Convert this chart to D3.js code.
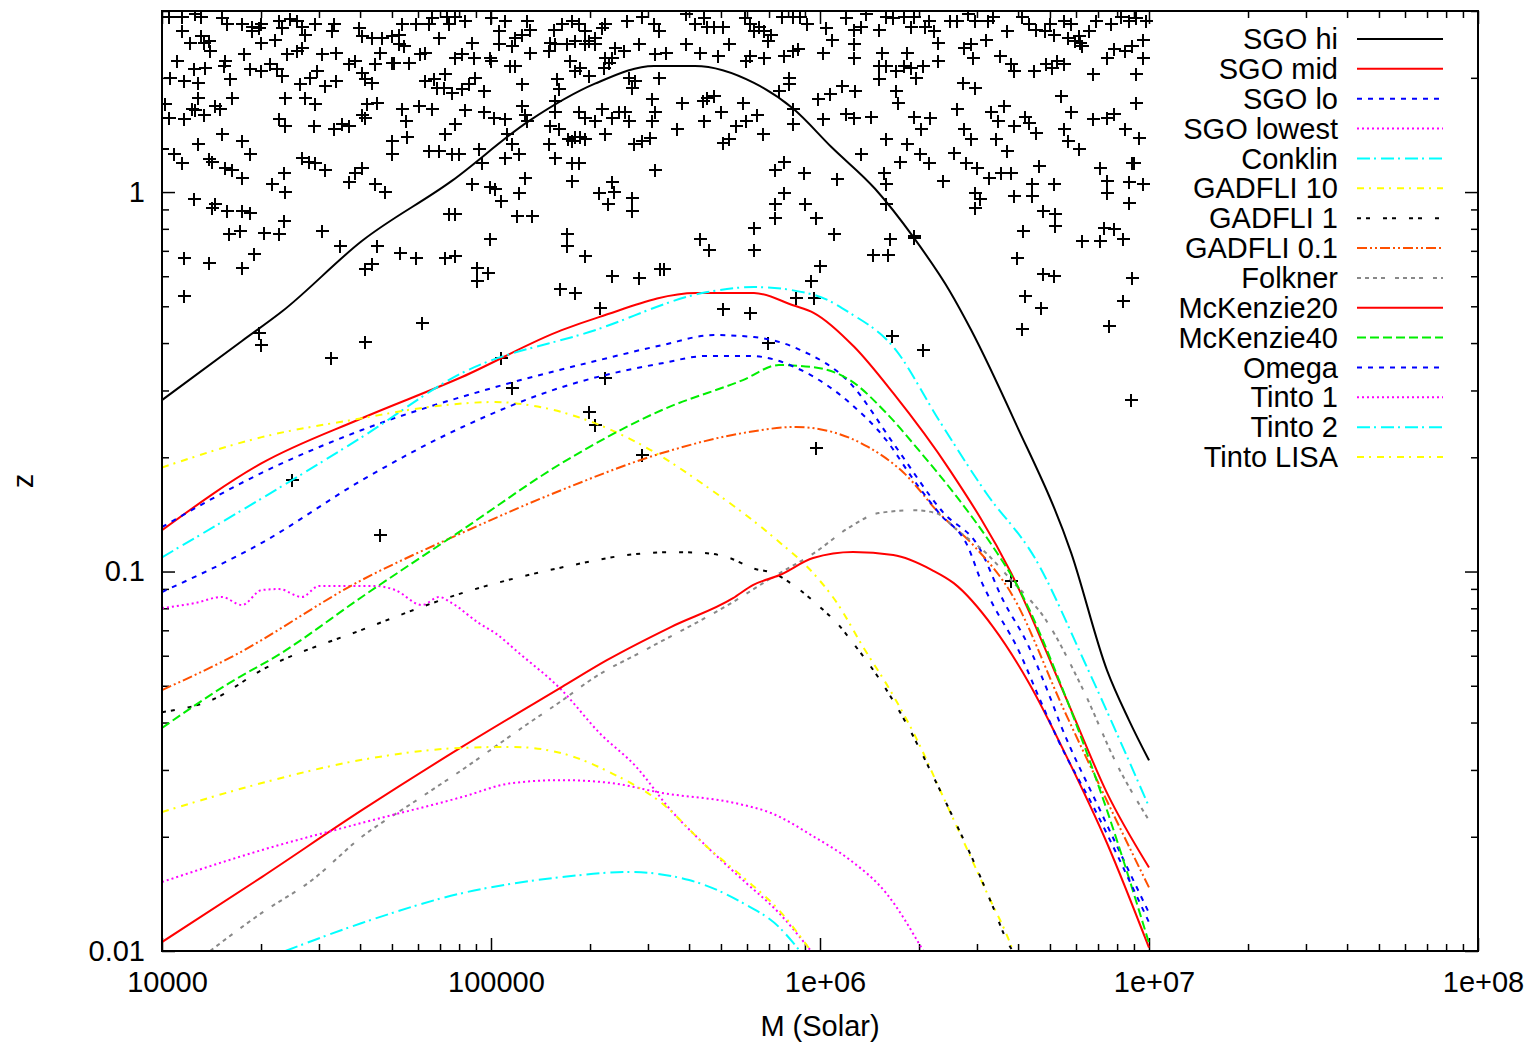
<!DOCTYPE html>
<html>
<head>
<meta charset="utf-8">
<script src="https://cdn.jsdelivr.net/npm/d3@7"></script>
<style>
  body { margin: 0; background: #fff; }
  text { font-family: "Liberation Sans", Arial, Helvetica, sans-serif; }
</style>
</head>
<body>
<script>
// ---- data ----
var xTickVals = [1e4, 1e5, 1e6, 1e7, 1e8];
var xTickLabels = ["10000", "100000", "1e+06", "1e+07", "1e+08"];
var yTickVals = [0.01, 0.1, 1];
var yTickLabels = ["0.01", "0.1", "1"];

var seriesNames = ["SGO hi", "SGO mid", "SGO lo", "SGO lowest", "Conklin", "GADFLI 10", "GADFLI 1",
  "GADFLI 0.1", "Folkner", "McKenzie20", "McKenzie40", "Omega", "Tinto 1", "Tinto 2", "Tinto LISA"];

var sgoHiM = [1e4, 1.75e4, 2.32e4, 4.05e4, 7.6e4, 1.306e5, 2.07e5, 3.13e5, 4.17e5, 6.3e5, 8.28e5, 1.087e6, 1.47e6, 1.93e6, 2.48e6, 2.88e6, 3.89e6, 5.8e6, 7.45e6, 8.69e6, 1e7];
var sgoHiZ = [0.283, 0.405, 0.485, 0.743, 1.07, 1.54, 1.93, 2.15, 2.15, 1.94, 1.66, 1.31, 1.02, 0.757, 0.548, 0.433, 0.251, 0.112, 0.055, 0.0406, 0.0318];

var sgoMidM = [1e4, 2.01e4, 4.05e4, 8.16e4, 1.64e5, 2.14e5, 4.2e5, 6.3e5, 8.28e5, 9.59e5, 1.27e6, 1.67e6, 2.48e6, 3.81e6, 5.68e6, 7.45e6, 1e7];
var sgoMidZ = [0.1285, 0.193, 0.2535, 0.3255, 0.4325, 0.469, 0.542, 0.542, 0.503, 0.48, 0.391, 0.295, 0.185, 0.0991, 0.045, 0.0261, 0.0166];

var sgoLoM = [1e4, 2.01e4, 4.05e4, 1.028e5, 2.14e5, 3.31e5, 4.76e5, 6.3e5, 8.69e5, 1.233e6, 1.7e6, 2.37e6, 3.04e6, 3.6e6, 4.26e6, 5.0e6, 5.36e6, 7.1e6, 1e7];
var sgoLoZ = [0.131, 0.182, 0.236, 0.306, 0.361, 0.395, 0.42, 0.415, 0.384, 0.314, 0.213, 0.143, 0.116, 0.0841, 0.0648, 0.0467, 0.0399, 0.0235, 0.0126];

var sgoLowestM = [1e4, 1.26e4, 1.52e4, 1.75e4, 2.01e4, 2.27e4, 2.66e4, 3.0e4, 4.44e4, 5.11e4, 6.17e4, 6.95e4, 7.6e4, 9.19e4, 1.028e5, 1.216e5, 1.64e5, 2.14e5, 2.76e5, 3.52e5, 4.54e5, 5.83e5, 7.5e5, 9.39e5];
var sgoLowestZ = [0.0801, 0.0826, 0.0857, 0.0816, 0.0894, 0.0899, 0.0857, 0.0916, 0.0916, 0.0894, 0.0816, 0.0857, 0.0826, 0.0731, 0.0689, 0.061, 0.0487, 0.0375, 0.0306, 0.0235, 0.0188, 0.01538, 0.0126, 0.01];

var conklinM = [1e4, 2.48e4, 4.05e4, 8.16e4, 2.07e5, 4.54e5, 6.3e5, 9.59e5, 1.233e6, 1.67e6, 2.3e6, 3.2e6, 4.5e6, 6.39e6, 1e7];
var conklinZ = [0.109, 0.174, 0.226, 0.3335, 0.4325, 0.545, 0.562, 0.536, 0.48, 0.391, 0.2505, 0.161, 0.1085, 0.0574, 0.024];

var gadfli10M = [1e4, 2.01e4, 4.05e4, 6.48e4, 1.028e5, 1.305e5, 2.07e5, 2.94e5, 4.54e5, 7.4e5, 9.53e5, 1.127e6, 1.353e6, 1.633e6, 1.973e6, 2.317e6, 2.72e6, 3.22e6, 3.78e6, 3.86e6];
var gadfli10Z = [0.188, 0.226, 0.2535, 0.2714, 0.2797, 0.2746, 0.246, 0.213, 0.167, 0.121, 0.0991, 0.0826, 0.0632, 0.0487, 0.036, 0.02656, 0.0196, 0.0142, 0.0105, 0.01];

var gadfli1M = [1e4, 1.42e4, 2.01e4, 4.05e4, 8.16e4, 1.775e5, 2.59e5, 3.57e5, 4.4e5, 5.32e5, 6.25e5, 7.19e5, 8.69e5, 1e6, 1.127e6, 1.26e6, 1.522e6, 1.877e6, 2.16e6, 2.535e6, 2.917e6, 3.357e6, 3.727e6, 3.85e6];
var gadfli1Z = [0.0426, 0.0459, 0.055, 0.0702, 0.0877, 0.104, 0.1105, 0.1125, 0.112, 0.1085, 0.102, 0.0991, 0.0894, 0.0806, 0.0731, 0.0648, 0.0518, 0.0382, 0.03, 0.02254, 0.01738, 0.01306, 0.0105, 0.01];

var gadfli01M = [1e4, 1.6e4, 4.05e4, 8.16e4, 1.64e5, 3.31e5, 5.83e5, 8.45e5, 1.087e6, 1.4e6, 1.8e6, 2.3e6, 2.96e6, 3.81e6, 5.52e6, 1e7];
var gadfli01Z = [0.0487, 0.0591, 0.095, 0.1264, 0.164, 0.2052, 0.2317, 0.2404, 0.2334, 0.213, 0.1818, 0.1426, 0.116, 0.0877, 0.0431, 0.0147];

var folknerM = [1.4e4, 2.01e4, 2.86e4, 4.05e4, 5.75e4, 8.16e4, 1.305e5, 1.62e5, 2.07e5, 2.94e5, 5.44e5, 7.19e5, 9.59e5, 1.233e6, 1.51e6, 1.93e6, 2.25e6, 2.61e6, 3.2e6, 3.81e6, 4.86e6, 6.25e6, 8.05e6, 1e7];
var folknerZ = [0.01, 0.0126, 0.01538, 0.02, 0.0245, 0.03, 0.0399, 0.0453, 0.0527, 0.0621, 0.0831, 0.0967, 0.1118, 0.131, 0.1426, 0.145, 0.1426, 0.1286, 0.1118, 0.095, 0.0745, 0.0496, 0.0306, 0.0221];

var mck20M = [1e4, 2.01e4, 4.05e4, 8.16e4, 1.64e5, 2.25e5, 3.52e5, 5.44e5, 6.25e5, 7.55e5, 9.53e5, 1.26e6, 1.67e6, 2.19e6, 2.55e6, 3.36e6, 4.32e6, 5.68e6, 7.45e6, 1e7];
var mck20Z = [0.01056, 0.01566, 0.0235, 0.0345, 0.0496, 0.0584, 0.0714, 0.0851, 0.0921, 0.0979, 0.1085, 0.1125, 0.1105, 0.1009, 0.0932, 0.0714, 0.0508, 0.0319, 0.01926, 0.0102];

var mck40M = [1e4, 1.6e4, 2.28e4, 4.05e4, 8.16e4, 1.64e5, 3.31e5, 5.83e5, 7.5e5, 9.59e5, 1.233e6, 1.59e6, 2.03e6, 2.61e6, 3.36e6, 4.0e6, 5.52e6, 7.45e6, 1e7];
var mck40Z = [0.0387, 0.0508, 0.0606, 0.0857, 0.1286, 0.193, 0.2665, 0.3195, 0.35, 0.3455, 0.3195, 0.2617, 0.2052, 0.157, 0.116, 0.091, 0.0479, 0.0235, 0.0105];

var omegaM = [1e4, 2.01e4, 4.05e4, 8.16e4, 1.64e5, 3.31e5, 4.54e5, 6.1e5, 9.12e5, 1.233e6, 1.59e6, 1.93e6, 2.3e6, 2.82e6, 3.08e6, 3.36e6, 3.97e6, 4.67e6, 5.29e6, 6.86e6, 1e7];
var omegaZ = [0.0883, 0.119, 0.174, 0.24, 0.306, 0.354, 0.37, 0.37, 0.3335, 0.278, 0.222, 0.174, 0.1426, 0.116, 0.095, 0.0816, 0.0632, 0.0458, 0.036, 0.0235, 0.0119];

var tinto1M = [1e4, 2.01e4, 4.05e4, 8.16e4, 1.158e5, 1.64e5, 2.33e5, 3.31e5, 5.56e5, 7.1e5, 9.59e5, 1.233e6, 1.59e6, 2.06e6];
var tinto1Z = [0.0152, 0.01845, 0.02175, 0.02545, 0.0277, 0.0282, 0.0277, 0.0261, 0.0245, 0.0231, 0.02, 0.01738, 0.0142, 0.01];

var tinto2M = [2.37e4, 4.05e4, 8.16e4, 1.64e5, 2.63e5, 4.0e5, 5.83e5, 7.5e5, 8.69e5];
var tinto2Z = [0.01, 0.01185, 0.0142, 0.01566, 0.01615, 0.01538, 0.01338, 0.01157, 0.01];

var tintoLisaM = [1e4, 2.01e4, 4.05e4, 8.16e4, 1.158e5, 1.64e5, 2.33e5, 3.31e5, 4.54e5, 5.83e5, 7.5e5, 9.39e5];
var tintoLisaZ = [0.02324, 0.0277, 0.0319, 0.0343, 0.0345, 0.0332, 0.0294, 0.0245, 0.0188, 0.01566, 0.01282, 0.01];

// scattered sources [M, z]
var scatter = [
[1.05e4,2.9],[1.15e4,2.9],[1.26e4,2.95],[1.31e4,2.9],[1.52e4,2.87],[1.58e4,2.77],[1.75e4,2.77],[1.88e4,2.73],[1.97e4,2.7],[2.0e4,2.78],
[2.27e4,2.82],[2.32e4,2.7],[2.45e4,2.86],[2.57e4,2.82],[2.66e4,2.73],[2.92e4,2.78],[3.33e4,2.78],[3.29e4,2.65],[3.97e4,2.7],[4.06e4,2.58],
[4.35e4,2.54],[4.66e4,2.54],[5.0e4,2.58],[5.25e4,2.6],[5.37e4,2.78],[5.9e4,2.77],[6.5e4,2.77],[6.6e4,2.87],[7.36e4,2.9],[7.45e4,2.78],
[7.8e4,2.9],[8.35e4,2.82],[1.0e5,2.87],[1.06e5,2.65],[1.1e5,2.82],[1.18e5,2.54],[1.24e5,2.6],[1.29e5,2.82],[1.31e5,2.68],[1.55e5,2.68],
[1.64e5,2.77],[1.76e5,2.82],[1.85e5,2.77],[1.93e5,2.65],[1.98e5,2.5],[2.07e5,2.54],[2.17e5,2.7],[2.22e5,2.77],[2.59e5,2.82],[2.88e5,2.9],
[3.14e5,2.78],[3.25e5,2.65],
[1.15e4,2.65],[1.22e4,2.47],[1.31e4,2.58],[1.39e4,2.5],[1.4e4,2.35],[1.34e4,2.47],[1.78e4,2.31],[1.88e4,2.65],[2.0e4,2.47],[2.21e4,2.52],
[2.4e4,2.31],[2.57e4,2.35],[2.66e4,2.4],[2.72e4,2.6],[3.07e4,2.31],[3.37e4,2.33],[3.86e4,2.22],[4.45e4,2.18],[4.6e4,2.33],[5.0e4,2.19],
[5.25e4,2.45],[5.45e4,2.43],[5.64e4,2.19],[6.1e4,2.31],[6.3e4,2.33],[6.95e4,2.54],[7.8e4,2.26],[8.17e4,2.31],[8.77e4,2.47],[8.9e4,2.26],
[9.9e4,2.25],[1.06e5,2.45],[1.16e5,2.43],[1.31e5,2.33],[1.5e5,2.35],[1.51e5,2.47],[1.57e5,2.45],[1.7e5,2.45],[1.74e5,2.22],[1.8e5,2.5],
[1.93e5,2.45],[2.07e5,2.45],[2.22e5,2.26],[2.33e5,2.26],[2.38e5,2.4],[2.54e5,2.35],[2.82e5,2.45],[3.15e5,2.31],
[1.06e4,2.0],[1.11e4,2.22],[1.17e4,1.96],[1.25e4,2.11],[1.29e4,1.94],[1.35e4,2.12],[1.54e4,2.15],[1.55e4,2.22],[1.61e4,1.99],[1.85e4,2.11],
[2.0e4,2.08],[2.13e4,2.18],[2.24e4,2.11],[2.32e4,2.02],[2.63e4,1.93],[2.82e4,2.0],[2.96e4,2.08],[3.13e4,1.9],[3.37e4,1.96],[3.7e4,2.18],
[4.06e4,2.06],[4.15e4,1.99],[4.35e4,1.94],[5.07e4,2.19],[6.3e4,1.96],[6.7e4,1.99],[6.86e4,1.88],[7.2e4,1.88],[7.25e4,2.05],[7.62e4,1.82],
[8.17e4,1.87],[8.6e4,1.93],[8.95e4,2.0],[9.5e4,1.85],[1.0e5,2.22],[1.14e5,2.15],[1.18e5,2.15],[1.24e5,1.93],[1.59e5,1.99],[1.61e5,1.87],
[1.8e5,2.08],[1.87e5,2.12],[1.98e5,2.02],[2.2e5,2.12],[2.29e5,2.19],[2.62e5,2.0],[2.68e5,1.88],[2.74e5,1.96],[3.09e5,1.76],[3.25e5,2.0],
[1.02e4,1.71],[1.05e4,1.57],[1.17e4,1.56],[1.23e4,1.66],[1.26e4,1.65],[1.29e4,1.77],[1.34e4,1.6],[1.45e4,1.69],[1.5e4,1.66],[1.63e4,1.77],
[2.27e4,1.56],[2.37e4,1.77],[2.37e4,1.49],[2.72e4,1.77],[2.9e4,1.49],[2.92e4,1.71],[3.33e4,1.47],[3.53e4,1.51],[3.7e4,1.49],[4.06e4,1.6],
[4.2e4,1.71],[4.15e4,1.57],[4.5e4,1.72],[5.37e4,1.66],[5.5e4,1.54],[5.56e4,1.4],[6.05e4,1.69],[6.62e4,1.66],[7.25e4,1.42],[7.8e4,1.51],
[8.35e4,1.65],[9.2e4,1.3],[9.5e4,1.63],[1.02e5,1.57],[1.1e5,1.56],[1.12e5,1.42],[1.24e5,1.69],[1.27e5,1.6],[1.29e5,1.54],[1.51e5,1.49],
[1.57e5,1.74],[1.57e5,1.63],[1.61e5,1.47],[1.72e5,1.38],[1.8e5,1.4],[1.87e5,1.4],[1.93e5,1.38],[1.85e5,1.63],[1.93e5,1.57],[2.07e5,1.54],
[2.17e5,1.66],[2.22e5,1.42],[2.33e5,1.57],[2.45e5,1.63],[2.55e5,1.63],[2.62e5,1.54],[2.72e5,1.34],[2.88e5,1.36],[3.05e5,1.39],[3.09e5,1.54],[3.15e5,1.63],
[1.0e4,1.3],[1.09e4,1.26],[1.15e4,1.19],[1.29e4,1.34],[1.39e4,1.22],[1.42e4,1.2],[1.52e4,1.42],[1.55e4,1.16],[1.63e4,1.14],[1.75e4,1.09],
[1.75e4,1.36],[1.85e4,1.26],[2.16e4,1.05],[2.35e4,1.12],[2.37e4,1.0],[2.66e4,1.23],[2.8e4,1.2],[2.92e4,1.19],[3.13e4,1.14],[3.7e4,1.06],
[3.86e4,1.12],[4.06e4,1.16],[4.45e4,1.05],[4.75e4,1.0],[5.0e4,1.36],[5.0e4,1.26],[6.5e4,1.28],[6.95e4,1.28],[7.62e4,1.26],[8.0e4,1.26],
[8.77e4,1.05],[9.4e4,1.19],[9.9e4,1.03],[1.03e5,1.02],[1.07e5,0.947],[1.1e5,1.23],[1.16e5,1.34],[1.22e5,1.26],[1.22e5,0.994],[1.27e5,1.09],
[1.5e5,1.34],[1.57e5,1.23],[1.76e5,1.36],[1.76e5,1.07],[1.76e5,1.19],[1.85e5,1.19],[2.13e5,0.994],[2.26e5,0.93],[2.33e5,1.06],[2.36e5,1.0],
[2.68e5,0.965],[2.68e5,0.891],[3.15e5,1.14],
[1.17e4,0.67],[1.17e4,0.531],[1.25e4,0.959],[1.39e4,0.65],[1.42e4,0.907],[1.45e4,0.93],[1.58e4,0.891],[1.6e4,0.775],[1.73e4,0.79],[1.75e4,0.631],
[1.75e4,0.891],[1.85e4,0.88],[1.9e4,0.687],[2.04e4,0.78],[2.27e4,0.775],[2.35e4,0.839],[3.07e4,0.79],[3.48e4,0.72],[4.15e4,0.627],[4.35e4,0.646],
[4.5e4,0.72],[5.3e4,0.69],[5.9e4,0.67],[6.17e4,0.452],[7.25e4,0.67],[7.45e4,0.875],[7.8e4,0.875],[7.8e4,0.679],[9.08e4,0.631],[9.08e4,0.583],
[9.8e4,0.612],[9.9e4,0.75],[1.2e5,0.865],[1.33e5,0.865],[1.7e5,0.775],[1.7e5,0.72],[1.62e5,0.556],[1.8e5,0.541],[1.93e5,0.679],[2.15e5,0.495],
[2.33e5,0.6],[2.82e5,0.594],[3.27e5,0.627],[1.97e4,0.425],
[2.0e4,0.395],[3.27e4,0.365],[4.15e4,0.403],[1.07e5,0.365],[1.16e5,0.305],[2.22e5,0.323],[1.99e5,0.263],[2.07e5,0.243],[2.88e5,0.203],[2.48e4,0.174],[4.6e4,0.125],
[3.92e5,2.95],[4.17e5,2.78],[4.45e5,2.87],[4.54e5,2.73],[4.75e5,2.73],[5.07e5,2.73],[5.92e5,2.87],[6.13e5,2.77],[6.3e5,2.65],[6.53e5,2.73],
[6.76e5,2.65],[7.1e5,2.6],[7.67e5,2.9],[8.3e5,2.9],[8.7e5,2.9],[9.15e5,2.77],[1.04e6,2.7],[1.09e6,2.52],[1.2e6,2.87],[1.27e6,2.68],
[1.33e6,2.73],[1.38e6,2.95],[1.51e6,2.68],[1.59e6,2.9],[1.67e6,2.87],[1.8e6,2.9],[1.89e6,2.73],[1.93e6,2.9],[2.09e6,2.73],[2.14e6,2.82],
[2.22e6,2.65],[2.29e6,2.47],[2.48e6,2.82],[2.61e6,2.82],[2.82e6,2.95],[2.96e6,2.82],[3.24e6,2.82],[3.35e6,2.9],[3.7e6,2.65],[4.1e6,2.9],
[4.32e6,2.77],[4.54e6,2.68],[4.83e6,2.65],[5.0e6,2.77],[5.15e6,2.6],[5.52e6,2.82],[5.8e6,2.77],[5.96e6,2.5],[6.17e6,2.47],[6.58e6,2.65],
[6.9e6,2.82],[7.67e6,2.78],[8.2e6,2.9],[8.7e6,2.82],[9.15e6,2.87],[9.8e6,2.82],[9.6e6,2.52],
[3.4e5,2.33],[3.92e5,2.45],[4.32e5,2.33],[4.9e5,2.28],[5.3e5,2.45],[5.96e5,2.22],[6.13e5,2.28],[6.76e5,2.26],[6.95e5,2.5],[7.8e5,2.28],
[8.3e5,2.35],[8.6e5,2.38],[1.02e6,2.33],[1.27e6,2.25],[1.27e6,2.45],[1.54e6,2.33],[1.51e6,2.15],[1.59e6,2.15],[1.7e6,2.08],[1.84e6,2.33],
[1.8e6,2.15],[1.89e6,2.12],[1.96e6,2.0],[2.06e6,2.15],[2.29e6,2.22],[2.74e6,2.4],[2.88e6,2.45],[2.92e6,2.26],[3.2e6,2.52],[3.53e6,2.28],
[3.8e6,2.18],[3.89e6,2.08],[4.47e6,2.08],[4.86e6,2.18],[5.07e6,2.12],[5.25e6,2.22],[5.52e6,2.18],[5.68e6,2.54],[6.13e6,2.58],[6.26e6,2.43],
[6.76e6,2.05],[7.45e6,2.26],[7.84e6,2.38],[8.46e6,2.35],[8.9e6,2.43],[9.15e6,2.05],[9.6e6,2.26],
[3.68e5,1.47],[3.8e5,1.72],[4.4e5,1.74],[4.45e5,1.54],[4.54e5,1.77],[4.75e5,1.79],[5.0e5,1.63],[5.07e5,1.35],[5.3e5,1.38],[5.56e5,1.49],
[5.84e5,1.72],[5.96e5,1.54],[6.43e5,1.6],[6.7e5,1.42],[7.5e5,1.85],[8.05e5,2.0],[8.05e5,1.93],[8.3e5,1.66],[8.3e5,1.51],[9.85e5,1.76],
[1.02e6,1.56],[1.07e6,1.81],[1.17e6,1.9],[1.2e6,1.61],[1.27e6,1.57],[1.28e6,1.85],[1.43e6,1.58],[1.51e6,1.99],[1.59e6,1.38],[1.7e6,1.85],
[1.73e6,1.72],[1.84e6,1.34],[1.93e6,1.58],[2.01e6,1.26],[2.03e6,1.47],[2.16e6,1.57],[2.55e6,1.27],[2.61e6,1.66],[2.72e6,1.94],[2.74e6,1.47],
[2.88e6,1.38],[2.96e6,1.88],[3.31e6,1.63],[3.43e6,1.38],[3.48e6,1.54],[3.63e6,1.69],[3.7e6,1.28],[3.8e6,1.12],[3.89e6,1.49],[4.2e6,1.58],
[4.32e6,1.52],[4.54e6,1.43],[5.4e6,1.79],[5.52e6,1.47],[5.68e6,1.36],[5.8e6,1.63],[6.13e6,1.3],[6.76e6,1.56],[7.45e6,1.57],[7.84e6,1.61],
[8.46e6,1.47],[8.9e6,1.19],[9.15e6,1.72],[9.35e6,1.39],
[7.8e5,1.2],[7.3e5,1.14],[8.95e5,1.12],[7.8e5,0.994],[7.3e5,0.93],[7.3e5,0.854],[9.0e5,0.93],[9.72e5,0.854],[6.3e5,0.804],[4.32e5,0.75],
[4.6e5,0.704],[6.3e5,0.704],[1.1e6,0.775],[1.13e6,1.08],[1.33e6,1.26],[1.57e6,1.12],[1.59e6,1.05],[1.59e6,0.93],[1.75e6,1.2],[1.93e6,0.766],
[2.14e6,1.19],[2.37e6,1.07],[2.78e6,1.19],[3.0e6,1.16],[3.27e6,1.09],[3.55e6,1.12],[2.96e6,0.994],[3.07e6,0.959],[2.96e6,0.907],[3.89e6,0.976],
[4.41e6,1.05],[4.41e6,0.976],[4.63e6,1.17],[4.75e6,0.891],[5.15e6,1.05],[5.18e6,0.875],[5.18e6,0.814],[7.1e6,1.16],[7.45e6,1.07],[7.45e6,0.994],
[8.7e6,1.06],[9.6e6,1.05],[8.7e6,0.935],[9.0e6,1.19],
[3.35e5,0.627],[6.13e5,0.48],[5.07e5,0.492],[9.4e5,0.583],[1.0e6,0.639],[8.46e5,0.526],[9.6e5,0.526],[1.45e6,0.683],[1.61e6,0.683],[1.65e6,0.417],
[1.63e6,0.75],[1.93e6,0.756],[4.15e6,0.79],[3.98e6,0.67],[4.2e6,0.531],[4.1e6,0.436],[4.75e6,0.608],[5.15e6,0.6],[4.7e6,0.495],[6.26e6,0.741],
[7.1e6,0.741],[7.3e6,0.804],[7.84e6,0.8],[8.35e6,0.75],[8.9e6,0.594],[8.35e6,0.517],[7.57e6,0.444],
[8.8e6,0.283],[9.7e5,0.212],[6.95e5,0.40],[2.06e6,0.383],[3.8e6,0.0946]
];

// ---- line styles (gnuplot-like) ----
var styles = {
  "SGO hi":      { color: "#000000", dash: null },
  "SGO mid":     { color: "#ff0000", dash: null },
  "SGO lo":      { color: "#0000ff", dash: "5,6" },
  "SGO lowest":  { color: "#ff00ff", dash: "2,3" },
  "Conklin":     { color: "#00ffff", dash: "13,4,2,5" },
  "GADFLI 10":   { color: "#ffff00", dash: "7,5,2,6" },
  "GADFLI 1":    { color: "#000000", dash: "4,5,4,13" },
  "GADFLI 0.1":  { color: "#ff5000", dash: "10,3,2,3,2,3" },
  "Folkner":     { color: "#888888", dash: "4,4,4,4,4,4,4,10" },
  "McKenzie20":  { color: "#ff0000", dash: null },
  "McKenzie40":  { color: "#00ee00", dash: "9,4" },
  "Omega":       { color: "#0000ff", dash: "5,6" },
  "Tinto 1":     { color: "#ff00ff", dash: "2,3" },
  "Tinto 2":     { color: "#00ffff", dash: "13,4,2,5" },
  "Tinto LISA":  { color: "#ffff00", dash: "7,5,2,6" }
};

var seriesData = [
  d3.zip(sgoHiM, sgoHiZ), d3.zip(sgoMidM, sgoMidZ), d3.zip(sgoLoM, sgoLoZ), d3.zip(sgoLowestM, sgoLowestZ),
  d3.zip(conklinM, conklinZ), d3.zip(gadfli10M, gadfli10Z), d3.zip(gadfli1M, gadfli1Z), d3.zip(gadfli01M, gadfli01Z),
  d3.zip(folknerM, folknerZ), d3.zip(mck20M, mck20Z), d3.zip(mck40M, mck40Z), d3.zip(omegaM, omegaZ),
  d3.zip(tinto1M, tinto1Z), d3.zip(tinto2M, tinto2Z), d3.zip(tintoLisaM, tintoLisaZ)
];

// ---- layout ----
var margin = {top: 11, right: 55, bottom: 94, left: 162},
    width = 1533 - margin.left - margin.right,
    height = 1045 - margin.top - margin.bottom;

var x = d3.scaleLog().domain([1e4, 1e8]).range([0, width]);
var y = d3.scaleLog().domain([0.01, 3]).range([height, 0]);

var svg = d3.select("body").append("svg")
    .attr("width", 1533)
    .attr("height", 1045);
var g = svg.append("g")
    .attr("transform", "translate(" + margin.left + "," + margin.top + ")");

g.append("clipPath").attr("id", "plotclip")
  .append("rect").attr("width", width).attr("height", height);

function isMajor(v) { var l = Math.log10(v); return Math.abs(l - Math.round(l)) < 1e-9; }
var xMinor = x.ticks().filter(function(d) { return !isMajor(d); });
var yMinor = y.ticks().filter(function(d) { return !isMajor(d); });

// axes: majors with labels, minors without, mirrored on top/right
function styleAxis(sel) {
  sel.select(".domain").remove();
  sel.selectAll(".tick line").attr("stroke", "#000").attr("stroke-width", 1.5);
  sel.selectAll(".tick text").attr("fill", "#000")
     .style("font-size", "29px").style("font-family", '"Liberation Sans", Arial, sans-serif');
}

g.append("g").attr("transform", "translate(0," + height + ")")
  .call(d3.axisBottom(x).tickValues(xTickVals).tickSize(-13).tickSizeOuter(0).tickPadding(20)
        .tickFormat(function(d, i) { return xTickLabels[i]; }))
  .call(styleAxis)
  .selectAll(".tick text").attr("dx", 5);
g.append("g").attr("transform", "translate(0," + height + ")")
  .call(d3.axisBottom(x).tickValues(xMinor).tickSize(-7).tickSizeOuter(0).tickFormat(""))
  .call(styleAxis);
g.append("g")
  .call(d3.axisTop(x).tickValues(xTickVals).tickSize(-13).tickSizeOuter(0).tickFormat(""))
  .call(styleAxis);
g.append("g")
  .call(d3.axisTop(x).tickValues(xMinor).tickSize(-7).tickSizeOuter(0).tickFormat(""))
  .call(styleAxis);

g.append("g")
  .call(d3.axisLeft(y).tickValues(yTickVals).tickSize(-13).tickSizeOuter(0).tickPadding(17)
        .tickFormat(function(d, i) { return yTickLabels[i]; }))
  .call(styleAxis);
g.append("g")
  .call(d3.axisLeft(y).tickValues(yMinor).tickSize(-7).tickSizeOuter(0).tickFormat(""))
  .call(styleAxis);
g.append("g").attr("transform", "translate(" + width + ",0)")
  .call(d3.axisRight(y).tickValues(yTickVals).tickSize(-13).tickSizeOuter(0).tickFormat(""))
  .call(styleAxis);
g.append("g").attr("transform", "translate(" + width + ",0)")
  .call(d3.axisRight(y).tickValues(yMinor).tickSize(-7).tickSizeOuter(0).tickFormat(""))
  .call(styleAxis);

// scattered points as "+" (snapped to whole pixels so they stay crisp)
var plot = g.append("g").attr("clip-path", "url(#plotclip)");
plot.selectAll(".pt")
  .data(scatter)
  .enter().append("path")
    .attr("class", "pt")
    .attr("transform", function(d) {
      return "translate(" + Math.round(x(d[0])) + "," + Math.round(y(d[1])) + ")";
    })
    .attr("d", "M-6.5,0H6.5M0,-6.5V6.5")
    .attr("stroke", "#000")
    .attr("stroke-width", 2)
    .attr("shape-rendering", "crispEdges")
    .attr("fill", "none");

// curves
var line = d3.line()
    .x(function(d) { return x(d[0]); })
    .y(function(d) { return y(d[1]); })
    .curve(d3.curveMonotoneX);

seriesNames.forEach(function(name, i) {
  var st = styles[name];
  plot.append("path")
    .datum(seriesData[i])
    .attr("d", line)
    .attr("fill", "none")
    .attr("stroke", st.color)
    .attr("stroke-width", 2)
    .attr("stroke-dasharray", st.dash);
});

// frame
g.append("rect")
  .attr("width", width).attr("height", height)
  .attr("fill", "none").attr("stroke", "#000").attr("stroke-width", 2);

// legend
var legend = svg.append("g");
seriesNames.forEach(function(name, i) {
  var st = styles[name];
  var ly = 39 + i * 29.86;
  legend.append("text")
    .attr("x", 1338).attr("y", ly).attr("dy", "0.35em")
    .attr("text-anchor", "end")
    .style("font-size", "29px")
    .text(name);
  legend.append("line")
    .attr("x1", 1357).attr("x2", 1443).attr("y1", ly).attr("y2", ly)
    .attr("stroke", st.color).attr("stroke-width", 2)
    .attr("stroke-dasharray", st.dash);
});

// axis titles
svg.append("text")
  .attr("x", 820).attr("y", 1036)
  .attr("text-anchor", "middle")
  .style("font-size", "29px")
  .text("M (Solar)");
svg.append("text")
  .attr("transform", "translate(33,481) rotate(-90)")
  .attr("text-anchor", "middle")
  .style("font-size", "29px")
  .text("z");
</script>
</body>
</html>
